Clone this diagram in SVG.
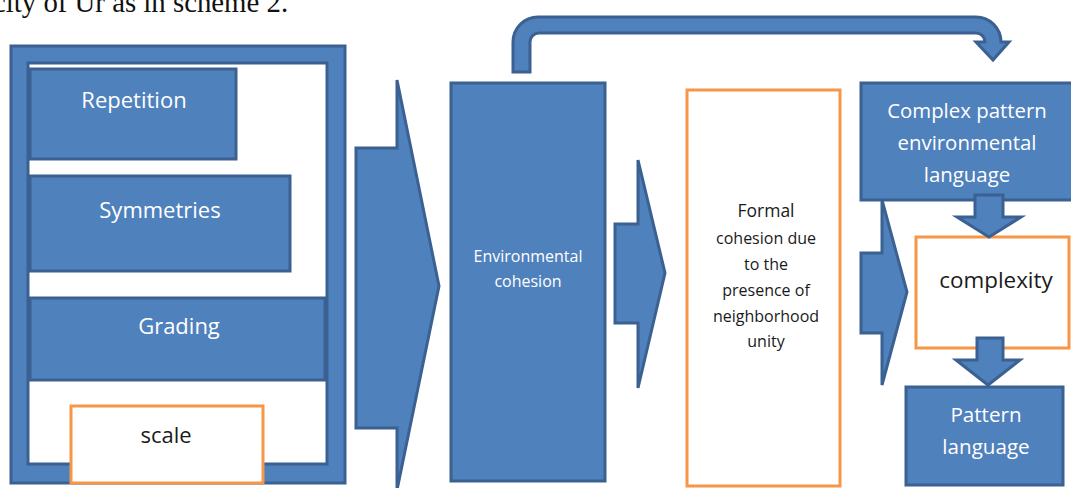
<svg xmlns="http://www.w3.org/2000/svg" width="1071" height="488" viewBox="0 0 1071 488">
<style>
.blue{fill:#4F81BD;stroke:#3B6192;stroke-width:3;stroke-linejoin:miter}
.orange{fill:#FFFFFF;stroke:#F79646;stroke-width:3}
.wt{font-family:"Open Sans","Liberation Sans",sans-serif;fill:#FFFFFF;text-anchor:middle}
.bt{font-family:"Open Sans","Liberation Sans",sans-serif;fill:#1A1A1A;text-anchor:middle}
</style>
<rect width="1071" height="488" fill="#FFFFFF"/>
<text x="-7" y="12" font-family="Liberation Serif, serif" font-size="28.8" fill="#111111">city of Ur as in scheme 2.</text>

<g id="frame">
<rect class="blue" x="11" y="46" width="334" height="437"/>
<rect x="28" y="63" width="299" height="401" fill="#FFFFFF" stroke="#3B6192" stroke-width="3"/>
</g>
<g id="repetition">
<rect class="blue" x="30" y="69" width="206" height="90"/>
<text class="wt" x="134" y="108" font-size="22">Repetition</text>
</g>
<g id="symmetries">
<rect class="blue" x="30" y="176" width="260" height="95"/>
<text class="wt" x="160" y="218" font-size="22">Symmetries</text>
</g>
<g id="grading">
<rect class="blue" x="30" y="298" width="295" height="82"/>
<text class="wt" x="179" y="334" font-size="22">Grading</text>
</g>
<g id="scale">
<rect class="orange" x="71" y="406" width="192" height="77"/>
<text class="bt" x="166" y="443" font-size="22">scale</text>
</g>

<g id="connectors">
<path class="blue" d="M356,148 L397,148 L397,80 L439,286 L397,490 L397,428 L356,428 Z"/>
<path class="blue" d="M615,224 L638,224 L638,160 L665,273 L638,388 L638,323 L615,323 Z"/>
<path class="blue" d="M861,253 L882,253 L882,200 L907,292 L882,385 L882,333 L861,333 Z"/>
<path class="blue" d="M513,72 L513,42 A25,25 0 0 1 538,17 L976,17 A25,25 0 0 1 1001,42 L1009,42 L993,60 L976,42 L985,42 A9,9 0 0 0 976,33 L539,33 A9,9 0 0 0 530,42 L530,72 Z"/>
</g>

<g id="env">
<rect class="blue" x="451" y="83" width="154" height="398"/>
<text class="wt" x="528" y="262" font-size="16">Environmental</text>
<text class="wt" x="528" y="287" font-size="16">cohesion</text>
</g>
<g id="formal">
<rect class="orange" x="687" y="90" width="153" height="396"/>
<text class="bt" x="766" y="217" font-size="17.5">Formal</text>
<text class="bt" x="766" y="244" font-size="16">cohesion due</text>
<text class="bt" x="766" y="270" font-size="16">to the</text>
<text class="bt" x="766" y="296" font-size="16">presence of</text>
<text class="bt" x="766" y="322" font-size="16">neighborhood</text>
<text class="bt" x="766" y="347" font-size="16">unity</text>
</g>
<g id="complexpattern">
<rect class="blue" x="861" y="83" width="212" height="117"/>
<text class="wt" x="967" y="118" font-size="20.4">Complex pattern</text>
<text class="wt" x="967" y="150" font-size="20.4">environmental</text>
<text class="wt" x="967" y="182" font-size="20.4">language</text>
</g>
<g id="complexity">
<rect class="orange" x="916" y="237" width="153" height="111"/>
<text class="bt" x="996" y="288" font-size="22.4">complexity</text>
</g>
<g id="patternlang">
<rect class="blue" x="906" y="387" width="157" height="98"/>
<text class="wt" x="986" y="422" font-size="20.6">Pattern</text>
<text class="wt" x="986" y="454" font-size="20.6">language</text>
</g>
<g id="downarrows">
<path class="blue" d="M975,195 L1003,195 L1003,217 L1021,217 L989,237 L957,217 L975,217 Z"/>
<path class="blue" d="M977,338 L1003,338 L1003,360 L1020,360 L988,385 L956,360 L977,360 Z"/>
</g>
</svg>
